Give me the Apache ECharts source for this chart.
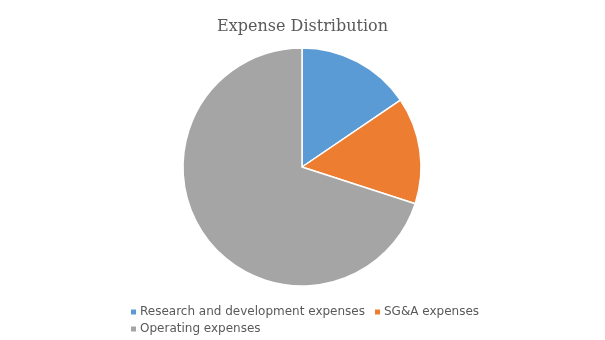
<!DOCTYPE html>
<html>
<head>
<meta charset="utf-8">
<style>
  html, body { margin: 0; padding: 0; background: #ffffff; }
  #chart { width: 605px; height: 340px; }
</style>
<script src="https://cdn.jsdelivr.net/npm/echarts@6/dist/echarts.min.js"></script>
</head>
<body>
<div id="chart"></div>
<script>
// Expense categories and their shares (%)
const categories = ['Research and development expenses', 'SG&A expenses', 'Operating expenses'];
const shares = [15.5, 14.5, 70];
const colors = ['#5B9BD5', '#ED7D31', '#A5A5A5'];

const chart = echarts.init(document.getElementById('chart'), null, { renderer: 'canvas' });

chart.setOption({
  animation: false,
  backgroundColor: '#ffffff',
  color: colors,
  title: {
    text: 'Expense Distribution',
    left: 'center',
    top: 14,
    textStyle: {
      fontFamily: 'DejaVu Serif',
      fontSize: 16,
      fontWeight: 'normal',
      color: '#595959'
    }
  },
  legend: {
    left: 129,
    top: 306,
    width: 380,
    itemWidth: 7,
    itemHeight: 7,
    itemGap: 5,
    padding: 0,
    icon: 'rect',
    textStyle: {
      fontFamily: 'DejaVu Sans',
      fontSize: 12,
      color: '#595959',
      padding: [0, 3, 0, -2],
      lineHeight: 12
    },
    data: categories
  },
  series: [{
    type: 'pie',
    center: [302, 167],
    radius: 119,
    startAngle: 90,
    clockwise: true,
    label: { show: false },
    labelLine: { show: false },
    itemStyle: { borderColor: '#ffffff', borderWidth: 1.5 },
    emphasis: { disabled: true },
    data: categories.map((name, i) => ({ name: name, value: shares[i] }))
  }]
});
</script>
</body>
</html>
